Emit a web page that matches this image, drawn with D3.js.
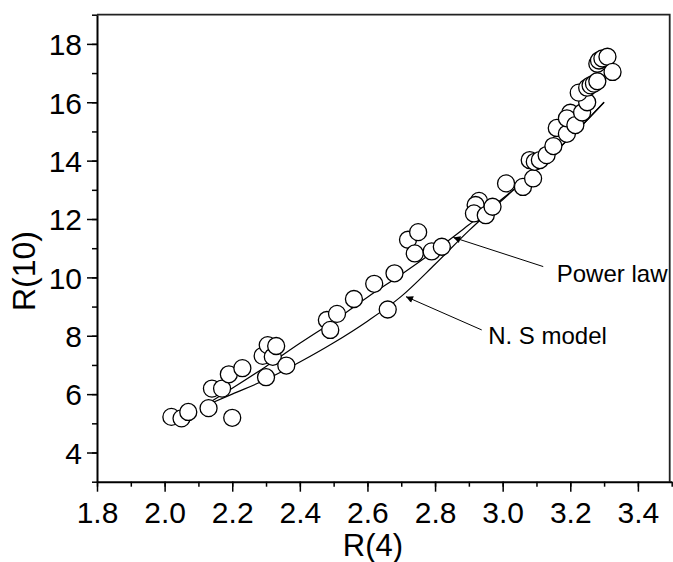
<!DOCTYPE html>
<html>
<head>
<meta charset="utf-8">
<script src="https://cdn.jsdelivr.net/npm/d3@7"></script>
<style>
  html, body { margin: 0; padding: 0; background: #fff; overflow: hidden; }
  svg { display: block; }
  svg text { font-family: Arial, "Liberation Sans", sans-serif; fill: #000; }
</style>
</head>
<body>
<div id="chart"></div>
<script>
// R(10) versus R(4) scatter with two fitted curves

// measured points
const r4 = [2.02, 2.05, 2.07, 2.13, 2.20, 2.14, 2.17, 2.19, 2.23, 2.29, 2.30, 2.305, 2.32, 2.33, 2.36,
  2.48, 2.49, 2.51, 2.56, 2.62, 2.66, 2.68, 2.72, 2.75, 2.74, 2.79, 2.82,
  2.93, 2.92, 2.915, 2.95, 2.97, 3.01, 3.06, 3.09, 3.08, 3.095, 3.11, 3.13, 3.15,
  3.16, 3.19, 3.20, 3.19, 3.215, 3.235, 3.25, 3.225, 3.25, 3.26, 3.27, 3.28,
  3.28, 3.285, 3.295, 3.31, 3.325];
const r10 = [5.22, 5.17, 5.39, 5.52, 5.19, 6.19, 6.19, 6.68, 6.89, 7.31, 6.58, 7.68, 7.28, 7.65, 6.98,
  8.54, 8.20, 8.75, 9.26, 9.78, 8.90, 10.14, 11.29, 11.55, 10.82, 10.89, 11.05,
  12.62, 12.48, 12.19, 12.13, 12.42, 13.22, 13.10, 13.39, 14.02, 13.96, 14.02, 14.19, 14.50,
  15.12, 14.92, 15.64, 15.45, 15.22, 15.65, 16.0, 16.33, 16.5, 16.58, 16.64, 16.72,
  17.32, 17.43, 17.5, 17.56, 17.04];

// fitted curves
const powerX = [2.12, 2.2, 2.3, 2.4, 2.5, 2.6, 2.7, 2.8, 2.9, 3.0, 3.1, 3.2, 3.3];
const powerY = [5.62, 6.2, 6.95, 7.74, 8.5, 9.32, 10.1, 10.92, 11.8, 12.7, 13.7, 14.8, 16.0];
const nsX = [2.12, 2.2, 2.3, 2.4, 2.5, 2.6, 2.7, 2.8, 2.9, 3.0, 3.1, 3.2, 3.3];
const nsY = [5.6, 6.0, 6.5, 7.1, 7.76, 8.5, 9.35, 10.45, 11.6, 12.66, 13.7, 14.8, 16.0];

// axes
const xTicks = [1.8, 2.0, 2.2, 2.4, 2.6, 2.8, 3.0, 3.2, 3.4];
const xMinor = d3.range(18, 36).map(d => d / 10);
const yTicks = [4, 6, 8, 10, 12, 14, 16, 18];
const yMinor = d3.range(3, 20);

// annotations: [label, text x, text y, arrow from x, from y, arrow to x, to y]
const notes = [
  ['Power law', 3.16, 9.85, 3.12, 10.37, 2.854, 11.37],
  ['N. S model', 2.957, 7.72, 2.938, 8.20, 2.714, 9.34]
];

const width = 673;
const height = 562;
const plotLeft = 97, plotRight = 671.7, plotTop = 14.7, plotBottom = 481.7;

const svg = d3.select('#chart')
  .append('svg')
  .attr('width', width)
  .attr('height', height);

const x = d3.scaleLinear().domain([1.8, 3.5]).range([plotLeft, plotRight]);
const y = d3.scaleLinear().domain([3, 19]).range([plotBottom, plotTop]);

// frame top and right (pulled in so the edge stays on screen)
svg.append('path')
  .attr('d', `M${plotLeft},${plotTop}H${plotRight - 2}V${plotBottom}`)
  .attr('fill', 'none')
  .attr('stroke', '#222')
  .attr('stroke-width', 1.8);

// minor ticks
svg.append('g')
  .attr('transform', `translate(0,${plotBottom})`)
  .call(d3.axisBottom(x).tickValues(xMinor).tickSize(5).tickSizeOuter(0).tickFormat(''))
  .call(g => g.select('.domain').remove())
  .selectAll('line').attr('stroke-width', 1.5);

svg.append('g')
  .attr('transform', `translate(${plotLeft},0)`)
  .call(d3.axisLeft(y).tickValues(yMinor).tickSize(5).tickSizeOuter(0).tickFormat(''))
  .call(g => g.select('.domain').remove())
  .selectAll('line').attr('stroke-width', 1.5);

// major ticks + labels
const xAxis = svg.append('g')
  .attr('transform', `translate(0,${plotBottom})`)
  .call(d3.axisBottom(x).tickValues(xTicks).tickSize(10).tickSizeOuter(0).tickPadding(10).tickFormat(d3.format('.1f')));

const yAxis = svg.append('g')
  .attr('transform', `translate(${plotLeft},0)`)
  .call(d3.axisLeft(y).tickValues(yTicks).tickSize(10).tickSizeOuter(0).tickPadding(5).tickFormat(d3.format('d')));

[xAxis, yAxis].forEach(g => {
  g.select('.domain').attr('stroke-width', 2);
  g.selectAll('line').attr('stroke-width', 1.5);
  g.selectAll('text')
    .attr('font-size', 30)
    .attr('font-family', 'Arial, "Liberation Sans", sans-serif');
});
xAxis.selectAll('text').attr('dy', '0.71em');
yAxis.selectAll('text').attr('dy', '0.36em');

// axis titles
svg.append('text')
  .attr('x', 373)
  .attr('y', 556)
  .attr('text-anchor', 'middle')
  .attr('font-size', 31)
  .text('R(4)');

svg.append('text')
  .attr('transform', 'translate(35,271) rotate(-90)')
  .attr('text-anchor', 'middle')
  .attr('font-size', 32)
  .text('R(10)');

// curves
const line = d3.line()
  .x(d => x(d[0]))
  .y(d => y(d[1]))
  .curve(d3.curveMonotoneX);

[[powerX, powerY], [nsX, nsY]].forEach(([xs, ys]) => {
  svg.append('path')
    .datum(xs.map((v, i) => [v, ys[i]]))
    .attr('d', line)
    .attr('fill', 'none')
    .attr('stroke', '#000')
    .attr('stroke-width', 1.2);
});

// points
svg.selectAll('.pt')
  .data(r4.map((v, i) => [v, r10[i]]))
  .join('circle')
  .attr('class', 'pt')
  .attr('cx', d => x(d[0]))
  .attr('cy', d => y(d[1]))
  .attr('r', 8.5)
  .attr('fill', '#fff')
  .attr('stroke', '#000')
  .attr('stroke-width', 1.3);

// arrows
svg.append('defs').append('marker')
  .attr('id', 'head')
  .attr('viewBox', '0 0 10 10')
  .attr('refX', 10)
  .attr('refY', 5)
  .attr('markerWidth', 11)
  .attr('markerHeight', 7)
  .attr('markerUnits', 'userSpaceOnUse')
  .attr('orient', 'auto')
  .append('path')
  .attr('d', 'M0,0L10,5L0,10Z')
  .attr('fill', '#000');

svg.selectAll('.arrow')
  .data(notes)
  .join('line')
  .attr('class', 'arrow')
  .attr('x1', d => x(d[3]))
  .attr('y1', d => y(d[4]))
  .attr('x2', d => x(d[5]))
  .attr('y2', d => y(d[6]))
  .attr('stroke', '#000')
  .attr('stroke-width', 1)
  .attr('marker-end', 'url(#head)');

svg.selectAll('.note')
  .data(notes)
  .join('text')
  .attr('class', 'note')
  .attr('x', d => x(d[1]))
  .attr('y', d => y(d[2]))
  .attr('font-size', 24)
  .text(d => d[0]);
</script>
</body>
</html>
